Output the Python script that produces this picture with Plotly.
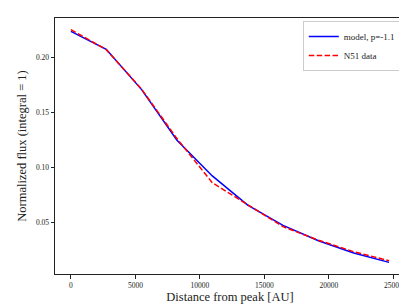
import plotly.graph_objects as go

distance_au = [0, 2740, 5480, 8220, 10960, 13700, 16440, 19180, 21920, 24660]
model_flux = [0.2236, 0.2073, 0.1706, 0.1245, 0.0920, 0.0655, 0.0470, 0.0330, 0.0218, 0.0133]
data_flux = [0.2252, 0.2070, 0.1710, 0.1260, 0.0858, 0.0660, 0.0458, 0.0335, 0.0230, 0.0148]
x_ticks = [0, 5000, 10000, 15000, 20000, 25000]
x_tick_labels = ["0", "5000", "10000", "15000", "20000", "25000"]
y_ticks = [0.05, 0.10, 0.15, 0.20]
y_tick_labels = ["0.05", "0.10", "0.15", "0.20"]

font = "Liberation Serif"
ink = "#222222"

fig = go.Figure()
fig.add_trace(go.Scatter(x=distance_au, y=model_flux, mode="lines", name="model, p=-1.1",
                         line=dict(color="#0000ff", width=1.5)))
fig.add_trace(go.Scatter(x=distance_au, y=data_flux, mode="lines", name="N51 data",
                         line=dict(color="#ff0000", width=1.5, dash="5.5px,2.4px")))

axis_common = dict(showgrid=False, zeroline=False, showline=True, linecolor=ink,
                   linewidth=1, mirror=True, ticks="outside", ticklen=3.5, tickwidth=0.8,
                   tickcolor=ink, tickfont=dict(family=font, size=7.5, color=ink))

fig.update_layout(
    width=407, height=305,
    margin=dict(l=47, r=10, t=10, b=39),
    paper_bgcolor="white", plot_bgcolor="white",
    font=dict(family=font, color=ink),
    xaxis=dict(range=[-1233, 25893], tickvals=x_ticks, ticktext=x_tick_labels,
               title=dict(text="Distance from peak [AU]", font=dict(family=font, size=12.5, color=ink), standoff=1),
               **axis_common),
    yaxis=dict(range=[0.0027, 0.2358], tickvals=y_ticks, ticktext=y_tick_labels,
               title=dict(text="Normalized flux (integral = 1)", font=dict(family=font, size=12.5, color=ink), standoff=6),
               **axis_common),
    legend=dict(x=0.988, y=0.988, xanchor="right", yanchor="top",
                bgcolor="rgba(255,255,255,0.8)", bordercolor="#cccccc", borderwidth=1,
                font=dict(family=font, size=9, color=ink), tracegroupgap=0, itemwidth=30),
    showlegend=True,
)

fig.write_html("out.html")
